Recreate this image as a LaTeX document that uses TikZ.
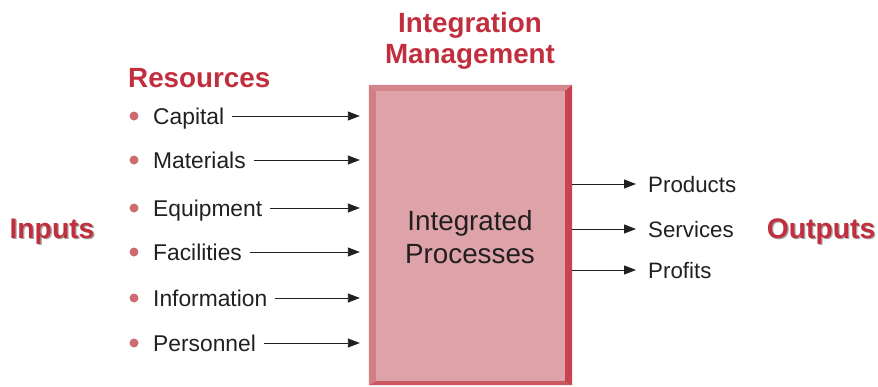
\documentclass[tikz,border=0pt]{standalone}
\usepackage{fontspec}
\setmainfont{Liberation Sans}
\usetikzlibrary{arrows.meta,calc}
\definecolor{hdred}{HTML}{C12F3E}
\definecolor{boxfill}{HTML}{DEA3A8}
\definecolor{bvtop}{HTML}{D4868C}
\definecolor{bvleft}{HTML}{D37E85}
\definecolor{bvright}{HTML}{C8434F}
\definecolor{bvbot}{HTML}{C95860}
\definecolor{bulletc}{HTML}{CD6B72}
\definecolor{txt}{HTML}{231F20}
\tikzset{
  x=1pt, y=-1pt,
  heading/.style={font=\bfseries\fontsize{27.8}{31}\selectfont, text=hdred, inner sep=0pt},
  bigword/.style={font=\bfseries\fontsize{28.3}{31}\selectfont, inner sep=0pt, text height=20.4pt, text depth=0pt},
  item/.style={font=\fontsize{22.8}{26}\selectfont, text=txt, inner sep=0pt, anchor=west, text height=16.3pt, text depth=0pt},
  outitem/.style={font=\fontsize{22.3}{26}\selectfont, text=txt, inner sep=0pt, anchor=west, text height=16pt, text depth=0pt},
  arr/.style={draw=txt, line width=0.9pt, -{Triangle[length=12pt,width=9pt]}},
  bulletdot/.style={circle, fill=bulletc, minimum size=9pt, inner sep=0pt},
}
\begin{document}
\begin{tikzpicture}
\useasboundingbox (0,0) rectangle (878,386);
% main box
\node[draw=none, fill=boxfill, minimum width=203pt, minimum height=300pt, inner sep=0pt] (box) at (470.5,235) {};
\fill[bvtop] (box.north west) -- (box.north east) -- ($(box.north east)+(-7,6)$) -- ($(box.north west)+(7,6)$) -- cycle;
\fill[bvleft] (box.north west) -- ($(box.north west)+(7,6)$) -- ($(box.south west)+(7,-4)$) -- (box.south west) -- cycle;
\fill[bvbot] (box.south west) -- ($(box.south west)+(7,-4)$) -- ($(box.south east)+(-7,-4)$) -- (box.south east) -- cycle;
\fill[bvright] (box.north east) -- (box.south east) -- ($(box.south east)+(-7,-4)$) -- ($(box.north east)+(-7,6)$) -- cycle;
\node[font=\fontsize{27.8}{33}\selectfont, text=txt, align=center, inner sep=0pt] (proc) at (470,237) {Integrated\\Processes};

% headings
\node[heading, align=center] (mgmt) at (470,40.5) {Integration\\[0pt]Management};
\node[heading, anchor=west, text height=20pt, text depth=0pt] (res) at (128,77) {Resources};

% Inputs / Outputs with shadow
\node[bigword, text=black!35] at (53.3,229.3) {Inputs};
\node[bigword, text=hdred] (inputs) at (52,228) {Inputs};
\node[bigword, text=black!35] at (822.3,229.3) {Outputs};
\node[bigword, text=hdred] (outputs) at (821,228) {Outputs};

% input items
\foreach \n/\t/\y in {c/Capital/116, m/Materials/160, e/Equipment/208, f/Facilities/252, i/Information/298, p/Personnel/343}{
  \node[bulletdot] (b\n) at (134,\y) {};
  \node[item] (t\n) at (153,\y) {\t};
  \draw[arr, shorten <=8pt, shorten >=9pt] (t\n.east) -- (t\n.east -| box.west);
}

% output items
\foreach \n/\t/\y in {pr/Products/184, se/Services/229, pf/Profits/270}{
  \node[outitem] (o\n) at (648,\y) {\t};
  \draw[arr, shorten >=12pt] (o\n.west -| box.east) -- (o\n.west);
}
\end{tikzpicture}
\end{document}
